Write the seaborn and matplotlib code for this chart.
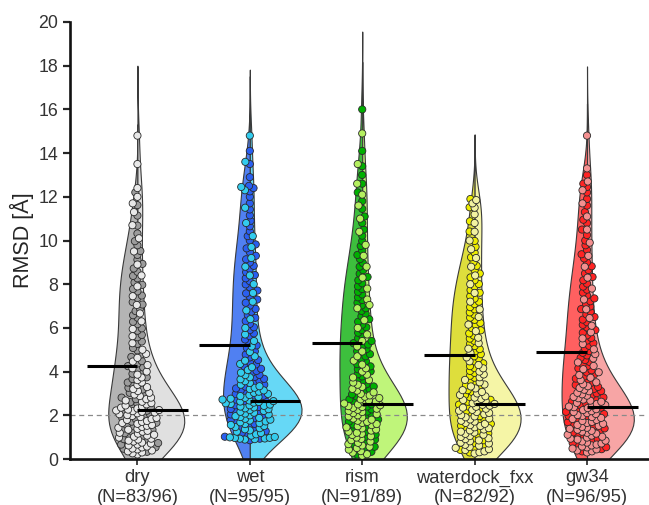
import numpy as np
import pandas as pd
import matplotlib
matplotlib.use("Agg")
import matplotlib.pyplot as plt
from matplotlib.collections import PathCollection
import seaborn as sns
from seaborn.categorical import Beeswarm

methods = ["dry", "wet", "rism", "waterdock_fxx", "gw34"]

dry_A = [0.33,0.47,0.54,0.66,0.73,0.85,0.91,1.02,1.07,1.18,1.23,1.34,1.39,1.5,1.55,1.66,1.71,1.82,1.87,1.98,
         2.04,2.16,2.21,2.34,2.41,2.53,2.6,2.74,2.81,2.96,3.03,3.18,3.26,3.42,3.5,3.66,3.74,3.9,3.98,4.12,
         4.19,4.25,
         4.37,4.48,4.67,4.78,4.97,5.08,5.27,5.38,5.57,5.68,5.87,5.98,6.17,6.28,6.47,6.58,6.77,6.88,7.07,7.18,
         7.37,7.48,7.67,7.78,7.97,8.08,8.27,8.38,8.57,8.72,8.93,9.12,9.34,9.52,9.78,9.97,10.32,10.68,11.14,11.62,
         12.2]
dry_B = [0.21,0.26,0.3,0.35,0.39,0.44,0.48,0.53,0.57,0.62,0.66,0.71,0.75,0.8,0.84,0.89,0.93,0.98,1.02,1.07,
         1.11,1.16,1.2,1.25,1.29,1.34,1.38,1.43,1.47,1.52,1.56,1.61,1.65,1.7,1.74,1.79,1.83,1.88,1.92,1.97,
         2.01,2.05,2.09,2.13,2.16,2.19,2.22,2.24,
         2.26,2.31,2.35,2.4,2.45,2.5,2.56,2.62,2.68,2.74,2.81,2.88,2.95,3.03,3.11,3.2,3.29,3.39,3.5,3.61,
         3.73,3.86,4.0,4.15,4.3,4.46,4.63,4.81,5.0,5.3,5.62,5.95,6.3,6.66,7.05,7.45,7.9,8.4,8.9,9.5,
         10.1,10.7,11.3,11.7,12.0,12.4,13.5,14.8]
wet_A = [0.86,0.93,1.02,1.1,1.19,1.27,1.36,1.44,1.53,1.61,1.7,1.78,1.87,1.95,2.04,2.12,2.21,2.29,2.38,2.46,
         2.55,2.63,2.72,2.8,2.89,2.97,3.06,3.14,3.23,3.31,3.4,3.49,3.58,3.67,3.76,3.85,3.94,4.03,4.13,4.23,
         4.33,4.43,4.53,4.65,4.78,4.93,5.08,5.2,
         5.34,5.47,5.62,5.75,5.9,6.03,6.18,6.31,6.46,6.59,6.74,6.87,7.02,7.15,7.3,7.43,7.58,7.71,7.86,7.99,
         8.14,8.27,8.42,8.55,8.7,8.84,8.99,9.14,9.3,9.47,9.64,9.82,10.0,10.2,10.42,10.65,10.9,11.15,11.42,11.7,
         12.0,12.25,12.4,12.5,12.9,13.5,14.1]
wet_B = [0.89,0.91,0.93,0.94,0.96,0.97,0.99,1.01,1.07,1.13,1.19,1.25,1.31,1.36,1.41,1.46,1.51,1.56,1.6,1.64,
         1.68,1.72,1.76,1.8,1.84,1.88,1.92,1.96,2.0,2.04,2.08,2.12,2.16,2.2,2.24,2.28,2.32,2.36,2.4,2.43,
         2.46,2.49,2.52,2.55,2.58,2.61,2.63,2.65,
         2.68,2.72,2.76,2.8,2.84,2.88,2.93,2.98,3.03,3.08,3.14,3.2,3.26,3.33,3.4,3.48,3.56,3.65,3.74,3.84,
         3.95,4.07,4.2,4.35,4.5,4.7,4.9,5.15,5.4,5.7,6.0,6.4,6.8,7.2,7.6,8.0,8.4,8.8,9.2,9.7,
         10.2,10.8,11.5,12.3,12.45,13.6,14.8]
rism_A = [0.2,0.33,0.43,0.56,0.66,0.79,0.89,1.02,1.12,1.25,1.35,1.48,1.58,1.71,1.81,1.94,2.04,2.17,2.27,2.4,
          2.5,2.63,2.73,2.86,2.96,3.09,3.19,3.32,3.42,3.55,3.65,3.78,3.88,4.01,4.11,4.24,4.34,4.47,4.57,4.7,
          4.8,4.93,5.03,5.15,5.24,5.3,
          5.4,5.53,5.65,5.78,5.9,6.03,6.15,6.28,6.4,6.53,6.65,6.78,6.9,7.03,7.15,7.28,7.4,7.53,7.65,7.78,
          7.9,8.04,8.18,8.33,8.48,8.64,8.8,8.97,9.15,9.34,9.54,9.75,9.98,10.22,10.5,10.8,11.1,11.45,11.8,12.2,
          12.6,13.0,13.4,14.1,16.0]
rism_B = [0.15,0.22,0.29,0.36,0.43,0.5,0.56,0.62,0.68,0.74,0.8,0.86,0.92,0.98,1.04,1.1,1.15,1.2,1.25,1.3,
          1.35,1.4,1.45,1.5,1.55,1.6,1.65,1.7,1.75,1.8,1.85,1.9,1.95,2.0,2.05,2.1,2.15,2.2,2.25,2.3,
          2.34,2.38,2.42,2.46,2.5,
          2.54,2.58,2.63,2.68,2.73,2.79,2.85,2.91,2.98,3.05,3.13,3.21,3.3,3.4,3.5,3.61,3.73,3.86,4.0,4.15,
          4.32,4.5,4.7,4.92,5.15,5.4,5.7,6.0,6.35,6.9,7.3,7.8,8.3,8.8,9.3,9.8,10.4,11.0,11.6,12.1,
          12.6,13.5,14.9,7.05]
waterdock_fxx_A = [0.3,0.42,0.51,0.64,0.73,0.86,0.95,1.08,1.17,1.3,1.39,1.52,1.61,1.74,1.83,1.96,2.05,2.18,2.27,2.4,
                   2.49,2.62,2.71,2.84,2.93,3.06,3.15,3.28,3.37,3.5,3.59,3.72,3.81,3.94,4.03,4.16,4.25,4.38,4.47,4.6,
                   4.7,
                   4.8,4.93,5.03,5.17,5.27,5.41,5.51,5.65,5.75,5.89,5.99,6.13,6.23,6.37,6.47,6.61,6.71,6.85,6.95,7.09,
                   7.2,7.34,7.45,7.61,7.73,7.89,8.01,8.18,8.31,8.49,8.64,8.84,9.01,9.23,9.44,9.71,9.98,10.41,10.88,11.52,
                   11.9]
waterdock_fxx_B = [0.25,0.31,0.35,0.41,0.45,0.51,0.55,0.61,0.65,0.71,0.75,0.81,0.85,0.91,0.95,1.01,1.05,1.11,1.15,1.21,
                   1.25,1.31,1.35,1.41,1.45,1.51,1.55,1.61,1.65,1.71,1.75,1.81,1.85,1.91,1.95,2.01,2.05,2.11,2.15,2.21,
                   2.25,2.3,2.35,2.39,2.44,2.48,
                   2.52,2.55,2.6,2.65,2.7,2.75,2.81,2.87,2.93,3.0,3.07,3.15,3.23,3.32,3.41,3.51,3.62,3.74,3.87,4.0,
                   4.15,4.3,4.47,4.65,4.85,5.05,5.3,5.55,5.85,6.15,6.5,6.85,7.2,7.6,8.0,8.4,8.8,9.2,9.6,10.0,
                   10.4,10.8,11.2,11.5,11.7,11.85]
gw34_A = [0.35,0.45,0.54,0.64,0.73,0.83,0.92,1.02,1.11,1.21,1.3,1.4,1.49,1.59,1.68,1.78,1.87,1.97,2.06,2.16,
          2.25,2.35,2.44,2.54,2.63,2.73,2.82,2.92,3.01,3.11,3.2,3.3,3.39,3.49,3.58,3.68,3.77,3.87,3.96,4.06,
          4.15,4.25,4.34,4.44,4.53,4.63,4.74,4.86,
          4.94,5.06,5.18,5.3,5.42,5.54,5.66,5.78,5.9,6.02,6.14,6.26,6.38,6.5,6.62,6.74,6.86,6.98,7.1,7.22,
          7.35,7.48,7.61,7.75,7.89,8.03,8.18,8.33,8.49,8.65,8.82,9.0,9.18,9.37,9.57,9.78,10.0,10.25,10.5,10.8,
          10.95,11.3,11.6,11.9,12.2,12.45,12.6,13.0]
gw34_B = [0.3,0.35,0.39,0.44,0.48,0.53,0.57,0.62,0.66,0.71,0.75,0.8,0.84,0.89,0.93,0.98,1.02,1.07,1.11,1.16,
          1.2,1.25,1.29,1.34,1.38,1.43,1.47,1.52,1.56,1.61,1.65,1.7,1.74,1.79,1.83,1.88,1.92,1.97,2.01,2.06,
          2.1,2.15,2.19,2.24,2.28,2.33,2.37,2.4,
          2.43,2.47,2.52,2.57,2.62,2.67,2.72,2.78,2.84,2.9,2.96,3.03,3.1,3.17,3.25,3.33,3.42,3.51,3.61,3.72,
          3.84,3.97,4.11,4.26,4.42,4.6,4.8,5.02,5.26,5.52,5.8,6.1,6.45,6.85,7.3,7.8,8.3,8.8,9.3,9.9,
          10.5,11.1,11.7,12.3,12.7,13.3,14.8]

series_A = [dry_A, wet_A, rism_A, waterdock_fxx_A, gw34_A]
series_B = [dry_B, wet_B, rism_B, waterdock_fxx_B, gw34_B]

violin_colors_A = ["#b4b4b4", "#5080f2", "#3dbf3d", "#dede3c", "#ff6060"]
violin_colors_B = ["#e0e0e0", "#66d8f6", "#bff57a", "#f5f5a6", "#f7a5a5"]
point_colors_A = ["#9c9c9c", "#2a5ff0", "#00b000", "#eeee00", "#ff2424"]
point_colors_B = ["#e8e8e8", "#33ccee", "#b5f060", "#f2f2a0", "#f49090"]

rows = []
for m, a, b in zip(methods, series_A, series_B):
    rows += [(m, "A", v) for v in a]
    rows += [(m, "B", v) for v in b]
df = pd.DataFrame(rows, columns=["method", "set", "rmsd"])

sns.set_theme(style="ticks")
plt.rcParams["font.family"] = ["Liberation Sans", "DejaVu Sans"]

fig = plt.figure(figsize=(6.49, 5.05), dpi=100)
ax = fig.add_axes([70 / 649, 1 - 459 / 505, 1 - 70 / 649 - 0.002, (459 - 22) / 505])

sns.violinplot(data=df, x="method", y="rmsd", hue="set", order=methods, hue_order=["A", "B"],
               split=True, inner=None, width=0.92, common_norm=True, density_norm="area",
               cut=3, bw_adjust=0.8, linewidth=0.8, linecolor="#3a3a3a", saturation=1,
               palette=["#aaaaaa", "#dddddd"], legend=False, ax=ax)

for coll in list(ax.collections):
    verts = coll.get_paths()[0].vertices
    xm = verts[:, 0].mean()
    i = int(round(xm))
    coll.set_facecolor(violin_colors_A[i] if xm < i else violin_colors_B[i])
    coll.set_zorder(1)

ax.axhline(2, color="#8a8a8a", ls=(0, (4, 3)), lw=0.9, zorder=2)


def compact_swarm(points, center, shrink=0.55):
    # seaborn's own beeswarm layout, computed for a smaller marker so that
    # the drawn (larger) markers overlap like in the reference
    bees = Beeswarm(width=0.8, orient="x", warn_thresh=1.0)

    def draw(coll, renderer):
        full = coll.get_sizes().copy()
        coll.set_sizes(full * shrink ** 2)
        bees(coll, center)
        coll.set_sizes(full)
        PathCollection.draw(coll, renderer)

    points.draw = draw.__get__(points)


for i, m in enumerate(methods):
    sub = df[df["method"] == m]
    n_before = len(ax.collections)
    sns.swarmplot(data=sub, x="method", y="rmsd", hue="set", order=methods, hue_order=["A", "B"],
                  palette=[point_colors_A[i], point_colors_B[i]], size=5.2, linewidth=0.6,
                  edgecolor="#2a2a2a", legend=False, ax=ax, zorder=3, warn_thresh=1.0)
    for coll in ax.collections[n_before:]:
        if isinstance(coll, PathCollection) and len(coll.get_offsets()) > 1:
            compact_swarm(coll, i)

for i in range(len(methods)):
    ma = np.median(series_A[i])
    mb = np.median(series_B[i])
    ax.hlines(ma, i - 0.45, i, color="black", lw=2.2, zorder=5)
    ax.hlines(mb, i, i + 0.45, color="black", lw=2.2, zorder=5)

ax.set_ylim(0, 20)
ax.set_yticks(range(0, 21, 2))
ax.set_xlim(-0.6, 4.54)
ax.set_xticks(range(len(methods)))
labels = [f"{m}\n(N={len(a)}/{len(b)})" for m, a, b in zip(methods, series_A, series_B)]
ax.set_xticklabels(labels, fontsize=13.2, color="#333333")
ax.tick_params(axis="y", labelsize=12.8, labelcolor="#333333", length=5, width=1.6)
ax.tick_params(axis="x", length=4, width=1.2)
ax.set_xlabel("")
ax.set_ylabel("RMSD [Å]", fontsize=15.5, labelpad=3)
sns.despine(ax=ax)
for s in ["left", "bottom"]:
    ax.spines[s].set_linewidth(1.9)
    ax.spines[s].set_color("#111111")

fig.savefig("out.png", dpi=100)
